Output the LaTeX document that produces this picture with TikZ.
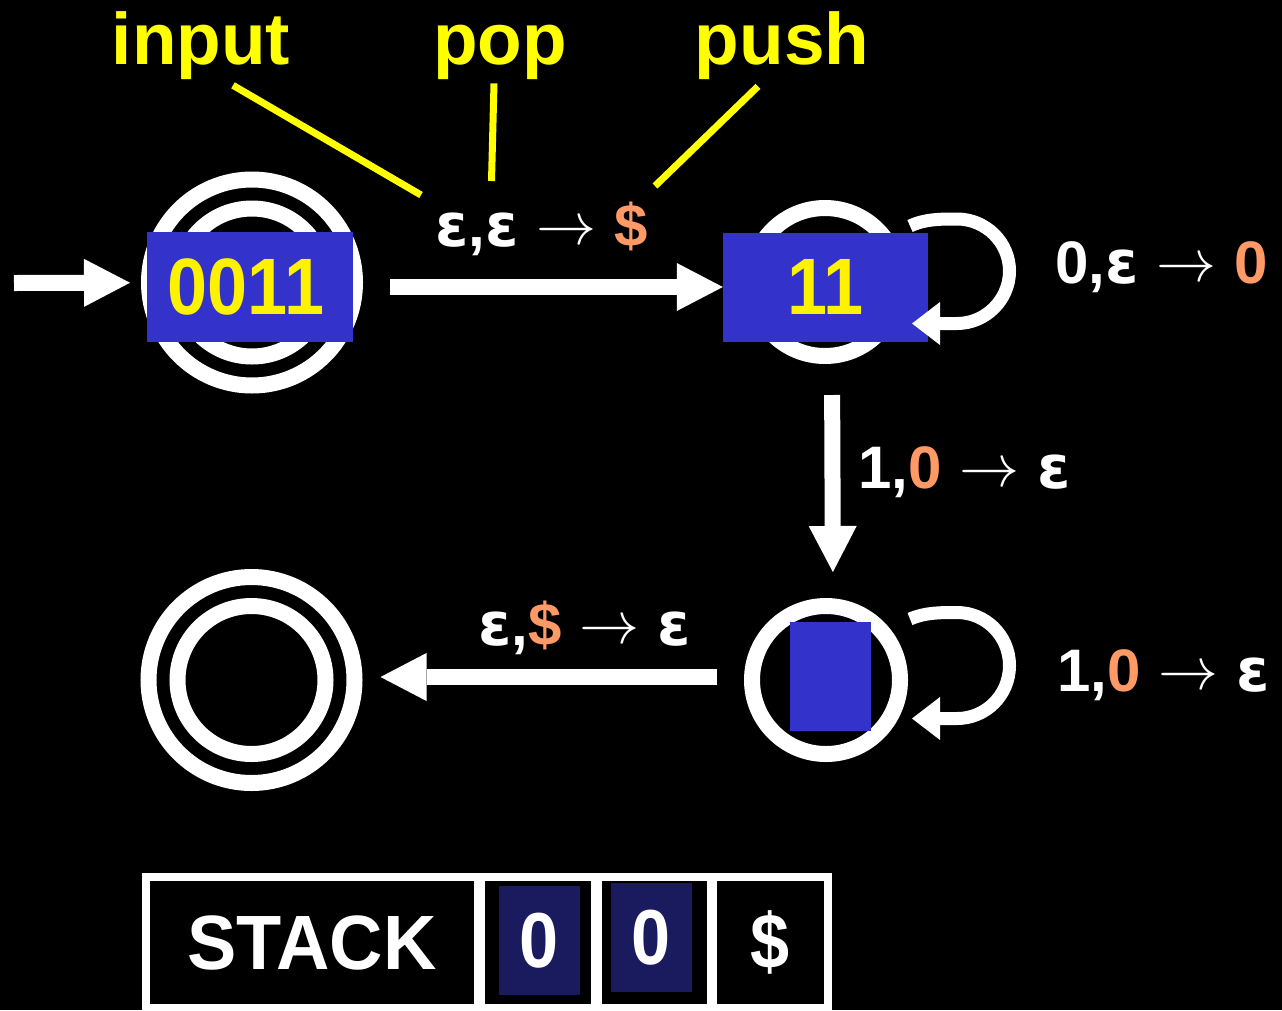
\documentclass[tikz,border=0pt]{standalone}
\usepackage{fontspec}
\setmainfont{Liberation Sans}
\newfontfamily\narrowfont[FakeStretch=0.9]{Liberation Sans}
\newfontfamily\stackfont[FakeStretch=0.96]{Liberation Sans}
\newfontfamily\greekfont{DejaVu Sans}
\usetikzlibrary{arrows.meta}

\definecolor{peach}{RGB}{255,153,102}
\definecolor{boxblue}{RGB}{51,51,204}
\definecolor{navy}{RGB}{26,26,94}
\definecolor{marker}{RGB}{255,255,0}

% pieces of the transition labels
\newcommand\eps{{\greekfont\bfseries ε}}
\newcommand\goesto{\hspace{18pt}\raisebox{2pt}{\scalebox{6}{\fontsize{10}{12}\selectfont$\rightarrow$}}\hspace{18pt}}
\newcommand\hl[1]{\textcolor{peach}{#1}}

\tikzset{
  ring/.style={circle, draw=white, line width=16pt, minimum size=148pt, inner sep=0pt},
  outerring/.style={circle, draw=white, line width=16pt, minimum size=206pt, inner sep=0pt},
  headbox/.style={fill=boxblue, text=yellow, inner sep=0pt,
    font=\narrowfont\bfseries\fontsize{80}{90}\selectfont},
  trans/.style={draw=white, line width=16pt,
    -{Triangle[length=46pt,width=48pt,line width=0pt]}},
  loopline/.style={draw=white, line width=13pt,
    -{Triangle[length=28pt,width=43pt,line width=0pt]}},
  tlabel/.style={text=white, anchor=base west, inner sep=0pt,
    font=\bfseries\fontsize{60}{66}\selectfont},
  note/.style={text=marker, anchor=base, inner sep=0pt,
    font=\bfseries\fontsize{73}{80}\selectfont},
  pointer/.style={draw=marker, line width=7pt},
  cell/.style={fill=black, inner sep=0pt, anchor=north west, text=white},
  stackcell/.style={fill=navy, inner sep=0pt, text=white},
  stackfont/.style={font=\narrowfont\bfseries\fontsize{78}{86}\selectfont}
}

\begin{document}
\begin{tikzpicture}[x=1pt, y=-1pt]
  \useasboundingbox (0,0) rectangle (1282,1010);
  \fill[black] (0,0) rectangle (1282,1010);

  % states
  \node[outerring] (q0) at (252,282.5) {};
  \node[ring] (q0in) at (252,282.5) {};
  \node[headbox, minimum width=206pt, minimum height=110pt] (tape0) at (250,287) {0011\kern8pt};

  \node[ring] (q1) at (825,282) {};
  \node[headbox, minimum width=205pt, minimum height=109pt] (tape1) at (825.5,287) {11};

  \node[ring] (q2) at (826,680) {};
  \node[headbox, minimum width=81pt, minimum height=109pt] (tape2) at (830.5,676.5) {};

  \node[outerring] (q3) at (251.5,680) {};
  \node[ring] (q3in) at (251.5,680) {};

  % transitions
  \coordinate (entry) at (14,283);
  \draw[trans, shorten >=11pt] (entry) -- (q0);
  \draw[trans, shorten <=37pt] (tape0) -- (tape1);
  \draw[trans, shorten <=31pt, shorten >=26pt] ([xshift=7pt]q1.south) -- ([xshift=7pt]q2.north);
  \draw[trans, shorten <=27pt, shorten >=18pt] ([yshift=3pt]q2.west) -- ([yshift=3pt]q3.east);

  % self loops
  \coordinate (loopA) at (910,226);
  \coordinate (loopAend) at (912,323.5);
  \draw[loopline] (loopA) .. controls (925,219) and (940,219) .. (957,219)
    .. controls (985.7,219) and (1009.5,242.3) .. (1009.5,271)
    .. controls (1009.5,299.7) and (985.7,323.5) .. (957,323.5) -- (loopAend);
  \coordinate (loopB) at (910,619);
  \coordinate (loopBend) at (912,718.5);
  \draw[loopline] (loopB) .. controls (925,612.5) and (940,612.5) .. (957,612.5)
    .. controls (985.7,612.5) and (1009.5,635.8) .. (1009.5,665.5)
    .. controls (1009.5,695.2) and (985.7,718.5) .. (957,718.5) -- (loopBend);

  % transition labels
  \node[tlabel] (lblA) at (435,246) {\eps,\eps\goesto\hl{\$}};
  \node[tlabel] (lblB) at (1055,283) {0,\eps\goesto\hl{0}};
  \node[tlabel] (lblC) at (858,488) {1,\hl{0}\goesto\eps};
  \node[tlabel] (lblD) at (1057,691) {1,\hl{0}\goesto\eps};
  \node[tlabel] (lblE) at (478,645) {\eps,\hl{\$}\goesto\eps};

  % annotations of the first label
  \node[note] (input) at (201,64) {input};
  \node[note] (pop) at (500,64) {pop};
  \node[note] (push) at (782,64) {push};
  \coordinate (inEnd) at (421,195);
  \coordinate (popEnd) at (491.5,181);
  \coordinate (pushEnd) at (655,186);
  \draw[pointer] ([shift={(32,6)}]input.south) -- (inEnd);
  \draw[pointer] ([shift={(-6,4)}]pop.south) -- (popEnd);
  \draw[pointer] ([shift={(-24,7)}]push.south) -- (pushEnd);

  % stack
  \fill[white] (142,873) rectangle (832,1012);
  \node[cell, minimum width=324.5pt, minimum height=123pt,
        font=\stackfont\bfseries\fontsize{77}{86}\selectfont] (stk) at (149.5,881) {STACK};
  \node[cell, minimum width=106pt, minimum height=123pt] (c1) at (485,881) {};
  \node[cell, minimum width=105pt, minimum height=123pt] (c2) at (602,881) {};
  \node[cell, minimum width=106.5pt, minimum height=123pt, stackfont] (c3) at (717,881) {\$};
  \node[stackcell, stackfont, minimum width=81pt, minimum height=109pt] (s1) at (539.5,940.5) {0};
  \node[stackcell, stackfont, minimum width=81pt, minimum height=109pt] (s2) at (651.5,937.5) {0};
\end{tikzpicture}
\end{document}
